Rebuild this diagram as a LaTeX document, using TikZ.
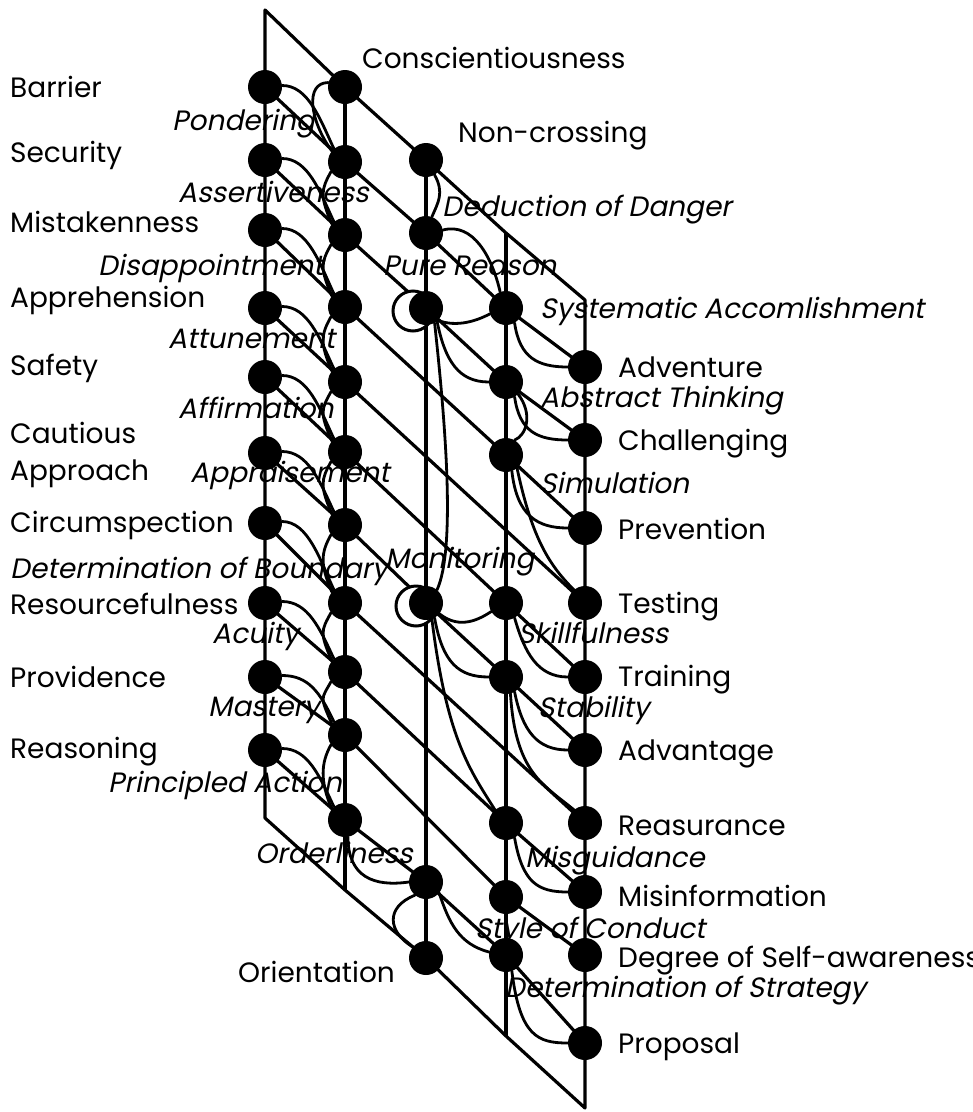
\documentclass[tikz,border=0pt]{standalone}
\usepackage{fontspec}
\setmainfont{Poppins}
\newfontfamily\slantfam[FakeSlant=0.2]{Poppins}
\newcommand\labfont{\fontsize{28}{33}\selectfont}
\newcommand\itlabfont{\slantfam\fontsize{28}{33}\selectfont}
\pgfdeclarelayer{bg}
\pgfdeclarelayer{mid}
\pgfsetlayers{bg,mid,main}
\begin{document}
\begin{tikzpicture}[x=1pt,y=-1pt,
  dot/.style={circle,fill=black,inner sep=0pt,minimum size=34pt},
  ocirc/.style={circle,draw=black,fill=white,line width=3pt,inner sep=0pt,minimum size=40pt},
  ln/.style={line width=3.2pt,line join=round},
  cv/.style={line width=2.8pt,line cap=round},
  lab/.style={anchor=base west,inner sep=0pt,font=\labfont},
  ilab/.style={anchor=base west,inner sep=0pt,font=\itlabfont}]
\useasboundingbox (0,0) rectangle (973,1112);
% column A
\node[dot] (a1) at (265,87) {};
\node[dot] (a2) at (265,160) {};
\node[dot] (a3) at (265,230) {};
\node[dot] (a4) at (265,308) {};
\node[dot] (a5) at (265,377) {};
\node[dot] (a6) at (265,453) {};
\node[dot] (a7) at (265,523) {};
\node[dot] (a8) at (265,603) {};
\node[dot] (a9) at (265,677) {};
\node[dot] (a10) at (265,750) {};
% column B
\node[dot] (b1) at (345,87) {};
\node[dot] (b2) at (345,162) {};
\node[dot] (b3) at (345,235) {};
\node[dot] (b4) at (345,307) {};
\node[dot] (b5) at (345,382) {};
\node[dot] (b6) at (345,452) {};
\node[dot] (b7) at (345,525) {};
\node[dot] (b8) at (345,603) {};
\node[dot] (b9) at (345,672) {};
\node[dot] (b10) at (345,735) {};
\node[dot] (b11) at (345,820) {};
% column C
\node[dot] (c1) at (426,160) {};
\node[dot] (c2) at (426,233) {};
\node[dot] (c3) at (426,308) {};
\node[dot] (c4) at (426,603) {};
\node[dot] (c5) at (426,882) {};
\node[dot] (c6) at (426,958) {};
% column D
\node[dot] (d1) at (506,308) {};
\node[dot] (d2) at (506,382) {};
\node[dot] (d3) at (506,455) {};
\node[dot] (d4) at (506,603) {};
\node[dot] (d5) at (506,677) {};
\node[dot] (d6) at (506,823) {};
\node[dot] (d7) at (506,897) {};
\node[dot] (d8) at (506,955) {};
% column E
\node[dot] (e1) at (585,367) {};
\node[dot] (e2) at (585,440) {};
\node[dot] (e3) at (585,528) {};
\node[dot] (e4) at (585,603) {};
\node[dot] (e5) at (585,677) {};
\node[dot] (e6) at (585,750) {};
\node[dot] (e7) at (585,823) {};
\node[dot] (e8) at (585,892) {};
\node[dot] (e9) at (585,955) {};
\node[dot] (e10) at (585,1043) {};
% frame corners
\coordinate (tl) at (265,10);
\coordinate (abot) at (265,818);
\coordinate (bbot) at (345,890);
\coordinate (dtop) at (506,233);
\coordinate (dbot) at (506,1036);
\coordinate (etop) at (585,300);
\coordinate (ebot) at (585,1108);

\begin{pgfonlayer}{mid}
\node[ocirc] (o1) at (413,311) {};
\node[ocirc] (o2) at (416,606) {};
\end{pgfonlayer}

\begin{pgfonlayer}{bg}
\fill[white] (0,0) rectangle (973,1112);
% frame
\draw[ln] (tl) -- (abot) -- (bbot) -- (c6.center) -- (dbot) -- (ebot) -- (etop) -- (dtop) -- (c1.center) -- (b1.center) -- cycle;
% inner verticals
\draw[ln] (b1.center) -- (bbot);
\draw[ln] (c1.center) -- (c6.center);
\draw[ln] (dtop) -- (dbot);
% diagonal rows
\draw[ln] (a1.center) -- (b2.center) -- (c2.center) -- (d1.center) -- (e1.center);
\draw[ln] (a2.center) -- (b3.center) -- (c3.center) -- (d2.center) -- (e2.center);
\draw[ln] (a3.center) -- (b4.center) -- (d3.center) -- (e3.center);
\draw[ln] (a4.center) -- (b5.center) -- (e4.center);
\draw[ln] (a5.center) -- (b6.center) -- (d4.center) -- (e5.center);
\draw[ln] (a6.center) -- (b7.center) -- (c4.center) -- (d5.center) -- (e6.center);
\draw[ln] (a7.center) -- (b8.center) -- (e7.center);
\draw[ln] (a8.center) -- (b9.center) -- (d6.center) -- (e8.center);
\draw[ln] (a9.center) -- (b10.center) -- (d7.center) -- (e9.center);
\draw[ln] (a10.center) -- (b11.center) -- (c5.center) -- (d8.center) -- (e10.center);
% A -> B curves
\foreach \i/\j in {1/2,2/3,3/4,4/5,5/6,6/7,7/8,8/9,9/10,10/11}
  \draw[cv] (a\i.5) .. controls +(26,0) and +(-14,-30) .. (b\j.130);
% B -> B curves on the left of column B
\draw[cv] (b1.165) .. controls +(-24,0) and +(-22,-30) .. (b2.140);
\foreach \i/\j in {2/3,3/4,4/5,5/6,6/7,7/8,8/9,9/10,10/11}
  \draw[cv] (b\i.215) .. controls +(-10,18) and +(-12,-28) .. (b\j.140);
% column C / D / E curves
\draw[cv] (c1.-60) .. controls +(10,18) and +(6,-14) .. (c2.70);
\draw[cv] (c2.10) .. controls +(30,-8) and +(-8,-35) .. (d1.110);
\draw[cv] (o1.-20) .. controls +(20,10) and +(-15,8) .. (d1.200);
\draw[cv] (c3.-50) .. controls +(8,40) and +(-30,0) .. (d2.180);
\draw[cv] (c3.-60) .. controls +(12,110) and +(18,-40) .. (c4.50);
\draw[cv] (o2.-15) .. controls +(20,18) and +(-15,10) .. (d4.210);
\draw[cv] (c4.-60) .. controls +(8,45) and +(-30,0) .. (d5.180);
\draw[cv] (c4.-70) .. controls +(15,120) and +(-25,-40) .. (d6.130);
\draw[cv] (d1.-60) .. controls +(5,35) and +(-30,0) .. (e1.180);
\draw[cv] (d2.-45) .. controls +(15,20) and +(12,-5) .. (d3.60);
\draw[cv] (d2.-60) .. controls +(5,35) and +(-30,0) .. (e2.180);
\draw[cv] (d3.-70) .. controls +(5,45) and +(-30,0) .. (e3.180);
\draw[cv] (d3.-50) .. controls +(15,70) and +(-25,-25) .. (e4.130);
\draw[cv] (d4.-60) .. controls +(10,35) and +(-30,0) .. (e5.180);
\draw[cv] (d5.-60) .. controls +(8,40) and +(-30,0) .. (e6.180);
\draw[cv] (d5.-75) .. controls +(5,80) and +(-30,-25) .. (e7.130);
\draw[cv] (d6.-60) .. controls +(8,45) and +(-30,0) .. (e8.180);
\draw[cv] (d8.-70) .. controls +(8,65) and +(-30,0) .. (e10.180);
\draw[cv] (b11.-80) .. controls +(0,40) and +(-35,5) .. (c5.180);
\draw[cv] (c5.230) .. controls +(-30,12) and +(-25,-15) .. (c6.140);
\draw[cv] (c5.-40) .. controls +(10,30) and +(-30,-8) .. (d8.170);
\end{pgfonlayer}

% labels left
\node[lab] (l1) at (10,97) {Barrier};
\node[lab] (l2) at (10,162) {Security};
\node[lab] (l3) at (10,232) {Mistakenness};
\node[lab] (l4) at (10,307) {Apprehension};
\node[lab] (l5) at (10,375) {Safety};
\node[lab] (l6a) at (10,443) {Cautious};
\node[lab] (l6b) at (10,480) {Approach};
\node[lab] (l7) at (10,532) {Circumspection};
\node[lab] (l8) at (10,614) {Resourcefulness};
\node[lab] (l9) at (10,687) {Providence};
\node[lab] (l10) at (10,758) {Reasoning};
\node[lab] (lor) at (238,982) {Orientation};
% labels top
\node[lab] (lco) at (362,68) {Conscientiousness};
\node[lab] (lnc) at (458,142) {Non-crossing};
% labels right
\node[lab] (r1) at (618,377) {Adventure};
\node[lab] (r2) at (618,450) {Challenging};
\node[lab] (r3) at (618,539) {Prevention};
\node[lab] (r4) at (618,613) {Testing};
\node[lab] (r5) at (618,686) {Training};
\node[lab] (r6) at (618,760) {Advantage};
\node[lab] (r7) at (618,835) {Reasurance};
\node[lab] (r8) at (618,906) {Misinformation};
\node[lab] (r9) at (618,967) {Degree of Self-awareness};
\node[lab] (r10) at (618,1053) {Proposal};
% italic labels
\node[ilab] (i1) at (172,130) {Pondering};
\node[ilab] (i2) at (178,202) {Assertiveness};
\node[ilab] (i3) at (98,275) {Disappointment};
\node[ilab] (i4) at (168,348) {Attunement};
\node[ilab] (i5) at (178,418) {Affirmation};
\node[ilab] (i6) at (190,482) {Appraisement};
\node[ilab] (i7) at (10,578) {Determination of Boundary};
\node[ilab] (i8) at (212,643) {Acuity};
\node[ilab] (i9) at (208,716) {Mastery};
\node[ilab] (i10) at (108,792) {Principled Action};
\node[ilab] (i11) at (255,863) {Orderliness};
\node[ilab] (j1) at (442,216) {Deduction of Danger};
\node[ilab] (j2) at (383,275) {Pure Reason};
\node[ilab] (j3) at (540,318) {Systematic Accomlishment};
\node[ilab] (j4) at (540,407) {Abstract Thinking};
\node[ilab] (j5) at (540,493) {Simulation};
\node[ilab] (j6) at (385,568) {Monitoring};
\node[ilab] (j7) at (518,643) {Skillfulness};
\node[ilab] (j8) at (538,717) {Stability};
\node[ilab] (j9) at (525,867) {Misguidance};
\node[ilab] (j10) at (475,938) {Style of Conduct};
\node[ilab] (j11) at (505,997) {Determination of Strategy};
\end{tikzpicture}
\end{document}
